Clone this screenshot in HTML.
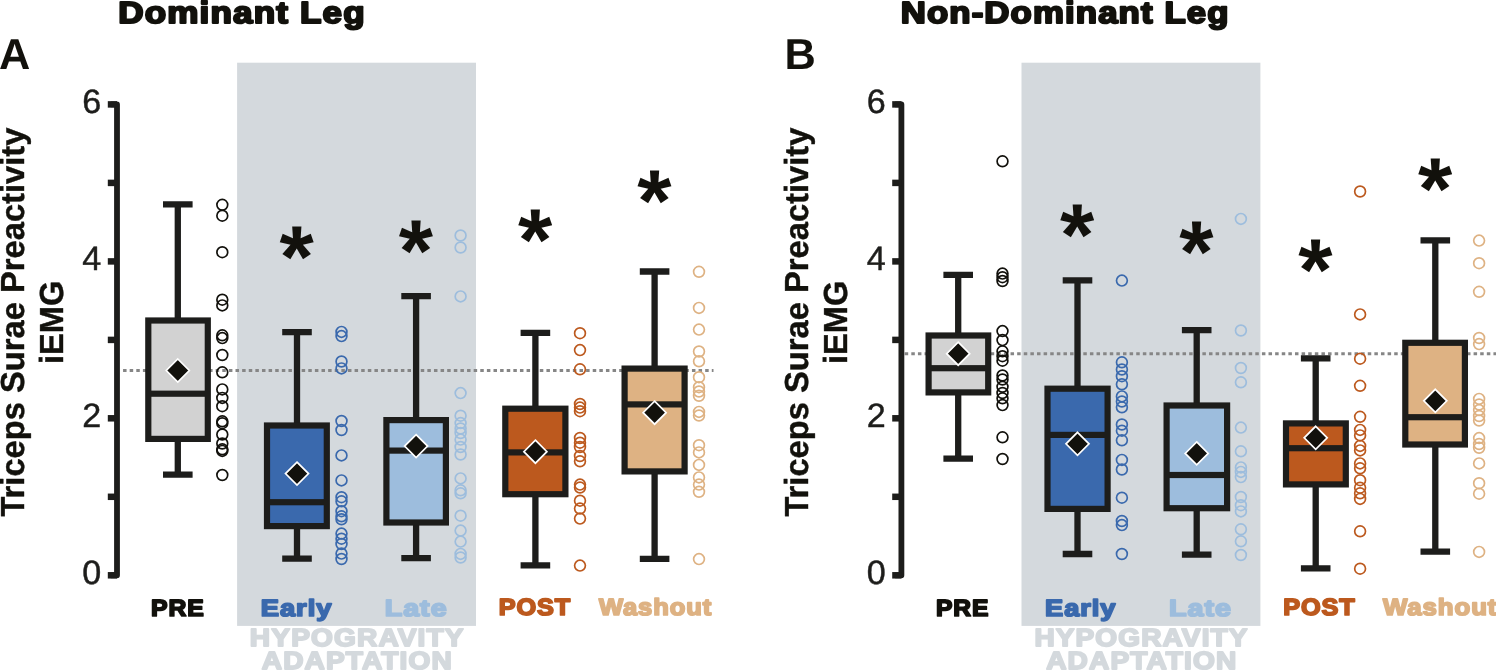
<!DOCTYPE html>
<html lang="en"><head><meta charset="utf-8"><title>Triceps Surae Preactivity iEMG</title>
<style>html,body{margin:0;padding:0;background:#fff}body{width:1496px;height:670px;overflow:hidden}svg{display:block;will-change:transform}text{font-family:"Liberation Sans",Arial,Helvetica,sans-serif;stroke-linejoin:round;text-rendering:geometricPrecision}</style></head><body>
<svg width="1496" height="670" viewBox="0 0 1496 670">
<rect width="1496" height="670" fill="#fff"/>
<rect x="237.1" y="62.7" width="238.9" height="563.2" fill="#d4d9dd"/>
<text transform="translate(249.84 646.00) scale(1 1.0)" font-size="24.85" font-weight="bold" fill="#d4d9dd" stroke="#d4d9dd" stroke-width="1.8" textLength="214.86" lengthAdjust="spacingAndGlyphs" letter-spacing="1.0">HYPOGRAVITY</text>
<text transform="translate(261.77 668.90) scale(1 1.0)" font-size="24.85" font-weight="bold" fill="#d4d9dd" stroke="#d4d9dd" stroke-width="1.8" textLength="191.15" lengthAdjust="spacingAndGlyphs" letter-spacing="1.0">ADAPTATION</text>
<line x1="123.06" y1="370.55" x2="713.5" y2="370.55" stroke="#868686" stroke-width="2.9" stroke-dasharray="3.5 3.115"/>
<path d="M110.7 104.4H117.0V575.3H110.7" fill="none" stroke="#1d1d1b" stroke-width="5.8" stroke-linejoin="round"/>
<line x1="107.8" y1="575.3" x2="117.0" y2="575.3" stroke="#1d1d1b" stroke-width="6.5"/>
<line x1="107.8" y1="496.8" x2="117.0" y2="496.8" stroke="#1d1d1b" stroke-width="6.5"/>
<line x1="107.8" y1="418.3" x2="117.0" y2="418.3" stroke="#1d1d1b" stroke-width="6.5"/>
<line x1="107.8" y1="339.9" x2="117.0" y2="339.9" stroke="#1d1d1b" stroke-width="6.5"/>
<line x1="107.8" y1="261.4" x2="117.0" y2="261.4" stroke="#1d1d1b" stroke-width="6.5"/>
<line x1="107.8" y1="182.9" x2="117.0" y2="182.9" stroke="#1d1d1b" stroke-width="6.5"/>
<line x1="107.8" y1="104.4" x2="117.0" y2="104.4" stroke="#1d1d1b" stroke-width="6.5"/>
<text transform="translate(101.3 583.7) scale(1.01 1)" font-size="33.8" text-anchor="end" fill="#1d1d1b" stroke="#1d1d1b" stroke-width="0.45">0</text>
<text transform="translate(101.3 426.7) scale(1.01 1)" font-size="33.8" text-anchor="end" fill="#1d1d1b" stroke="#1d1d1b" stroke-width="0.45">2</text>
<text transform="translate(101.3 269.8) scale(1.01 1)" font-size="33.8" text-anchor="end" fill="#1d1d1b" stroke="#1d1d1b" stroke-width="0.45">4</text>
<text transform="translate(101.3 112.8) scale(1.01 1)" font-size="33.8" text-anchor="end" fill="#1d1d1b" stroke="#1d1d1b" stroke-width="0.45">6</text>
<text transform="translate(23.70 516.56) rotate(-90) scale(1 1.02)" font-size="32.7" font-weight="bold" fill="#12110c" stroke="#12110c" stroke-width="0.4" textLength="388.99" lengthAdjust="spacingAndGlyphs">Triceps Surae Preactivity</text>
<text transform="translate(62.90 364.00) rotate(-90) scale(1 1.02)" font-size="32.7" font-weight="bold" fill="#12110c" stroke="#12110c" stroke-width="0.4" textLength="83.24" lengthAdjust="spacingAndGlyphs">iEMG</text>
<text x="-1.1" y="68.8" font-size="43.3" font-weight="bold" fill="#12110c">A</text>
<text transform="translate(118.17 22.80) scale(1 0.985)" font-size="31" font-weight="bold" fill="#12110c" stroke="#12110c" stroke-width="2.1" textLength="247.57" lengthAdjust="spacingAndGlyphs" letter-spacing="1.0">Dominant Leg</text>
<path d="M163.0 204.4H192.6M177.8 204.4V320.5M177.8 438.9V474.7M163.0 474.7H192.6" stroke="#1d1d1b" stroke-width="6.3" fill="none"/>
<rect x="145.2" y="317.4" width="65.7" height="124.6" fill="#1d1d1b"/>
<rect x="151.4" y="323.6" width="53.3" height="67.0" fill="#d2d2d2"/>
<rect x="151.4" y="396.8" width="53.3" height="39.0" fill="#d2d2d2"/>
<path d="M177.8 359.0L189.3 370.5L177.8 382.0L166.3 370.5Z" fill="#12110c" stroke="#fff" stroke-width="1.7"/>
<g fill="none" stroke="#12110c" stroke-width="1.7"><circle cx="222.3" cy="204.8" r="5.4"/><circle cx="222.3" cy="215.7" r="5.4"/><circle cx="222.3" cy="252.2" r="5.4"/><circle cx="222.3" cy="299.7" r="5.4"/><circle cx="222.3" cy="305.4" r="5.4"/><circle cx="222.3" cy="335.3" r="5.4"/><circle cx="222.3" cy="338.1" r="5.4"/><circle cx="222.3" cy="355.0" r="5.4"/><circle cx="222.3" cy="372.3" r="5.4"/><circle cx="222.3" cy="389.4" r="5.4"/><circle cx="222.3" cy="397.9" r="5.4"/><circle cx="222.3" cy="406.2" r="5.4"/><circle cx="222.3" cy="421.3" r="5.4"/><circle cx="222.3" cy="423.2" r="5.4"/><circle cx="222.3" cy="434.5" r="5.4"/><circle cx="222.3" cy="443.5" r="5.4"/><circle cx="222.3" cy="449.3" r="5.4"/><circle cx="222.3" cy="450.9" r="5.4"/><circle cx="222.3" cy="475.0" r="5.4"/></g>
<path d="M282.2 332.2H311.8M297.0 332.2V425.5M297.0 526.1V558.7M282.2 558.7H311.8" stroke="#1d1d1b" stroke-width="6.3" fill="none"/>
<rect x="263.9" y="422.4" width="66.0" height="106.8" fill="#1d1d1b"/>
<rect x="270.1" y="428.6" width="53.6" height="70.5" fill="#3a69ad"/>
<rect x="270.1" y="505.3" width="53.6" height="17.7" fill="#3a69ad"/>
<path d="M297.0 462.1L308.5 473.6L297.0 485.1L285.5 473.6Z" fill="#12110c" stroke="#fff" stroke-width="1.7"/>
<g fill="none" stroke="#3a69ad" stroke-width="1.7"><circle cx="341.5" cy="331.9" r="5.4"/><circle cx="341.5" cy="336.1" r="5.4"/><circle cx="341.5" cy="361.5" r="5.4"/><circle cx="341.5" cy="368.4" r="5.4"/><circle cx="341.5" cy="421.0" r="5.4"/><circle cx="341.5" cy="430.0" r="5.4"/><circle cx="341.5" cy="455.4" r="5.4"/><circle cx="341.5" cy="480.4" r="5.4"/><circle cx="341.5" cy="497.2" r="5.4"/><circle cx="341.5" cy="501.3" r="5.4"/><circle cx="341.5" cy="511.2" r="5.4"/><circle cx="341.5" cy="516.3" r="5.4"/><circle cx="341.5" cy="519.3" r="5.4"/><circle cx="341.5" cy="533.6" r="5.4"/><circle cx="341.5" cy="538.7" r="5.4"/><circle cx="341.5" cy="544.0" r="5.4"/><circle cx="341.5" cy="553.6" r="5.4"/><circle cx="341.5" cy="559.0" r="5.4"/></g>
<text x="296.7" y="287.1" font-size="88" font-weight="bold" text-anchor="middle" fill="#12110c" stroke="#12110c" stroke-width="0">*</text>
<path d="M401.3 296.1H430.9M416.1 296.1V420.1M416.1 522.5V558.1M401.3 558.1H430.9" stroke="#1d1d1b" stroke-width="6.3" fill="none"/>
<rect x="383.3" y="417.0" width="65.7" height="108.6" fill="#1d1d1b"/>
<rect x="389.5" y="423.2" width="53.3" height="24.3" fill="#9dbddd"/>
<rect x="389.5" y="453.7" width="53.3" height="65.7" fill="#9dbddd"/>
<path d="M416.1 434.6L427.6 446.1L416.1 457.6L404.6 446.1Z" fill="#12110c" stroke="#fff" stroke-width="1.7"/>
<g fill="none" stroke="#9dbddd" stroke-width="1.7"><circle cx="460.6" cy="235.5" r="5.4"/><circle cx="460.6" cy="247.5" r="5.4"/><circle cx="460.6" cy="296.4" r="5.4"/><circle cx="460.6" cy="393.1" r="5.4"/><circle cx="460.6" cy="415.7" r="5.4"/><circle cx="460.6" cy="423.1" r="5.4"/><circle cx="460.6" cy="428.5" r="5.4"/><circle cx="460.6" cy="433.0" r="5.4"/><circle cx="460.6" cy="439.6" r="5.4"/><circle cx="460.6" cy="447.0" r="5.4"/><circle cx="460.6" cy="454.5" r="5.4"/><circle cx="460.6" cy="478.4" r="5.4"/><circle cx="460.6" cy="490.3" r="5.4"/><circle cx="460.6" cy="493.3" r="5.4"/><circle cx="460.6" cy="515.7" r="5.4"/><circle cx="460.6" cy="530.6" r="5.4"/><circle cx="460.6" cy="541.6" r="5.4"/><circle cx="460.6" cy="553.9" r="5.4"/><circle cx="460.6" cy="557.5" r="5.4"/></g>
<text x="415.8" y="281.2" font-size="88" font-weight="bold" text-anchor="middle" fill="#12110c" stroke="#12110c" stroke-width="0">*</text>
<path d="M520.6 332.9H550.2M535.4 332.9V408.7M535.4 494.2V565.3M520.6 565.3H550.2" stroke="#1d1d1b" stroke-width="6.3" fill="none"/>
<rect x="502.2" y="405.6" width="66.3" height="91.7" fill="#1d1d1b"/>
<rect x="508.4" y="411.8" width="53.9" height="37.5" fill="#bc591e"/>
<rect x="508.4" y="455.5" width="53.9" height="35.6" fill="#bc591e"/>
<path d="M535.4 440.2L546.9 451.7L535.4 463.2L523.9 451.7Z" fill="#12110c" stroke="#fff" stroke-width="1.7"/>
<g fill="none" stroke="#bc591e" stroke-width="1.7"><circle cx="580.0" cy="333.2" r="5.4"/><circle cx="580.0" cy="350.1" r="5.4"/><circle cx="580.0" cy="369.3" r="5.4"/><circle cx="580.0" cy="404.0" r="5.4"/><circle cx="580.0" cy="407.6" r="5.4"/><circle cx="580.0" cy="411.2" r="5.4"/><circle cx="580.0" cy="438.0" r="5.4"/><circle cx="580.0" cy="442.7" r="5.4"/><circle cx="580.0" cy="447.0" r="5.4"/><circle cx="580.0" cy="456.0" r="5.4"/><circle cx="580.0" cy="461.3" r="5.4"/><circle cx="580.0" cy="484.6" r="5.4"/><circle cx="580.0" cy="487.5" r="5.4"/><circle cx="580.0" cy="500.7" r="5.4"/><circle cx="580.0" cy="508.6" r="5.4"/><circle cx="580.0" cy="518.6" r="5.4"/><circle cx="580.0" cy="565.6" r="5.4"/></g>
<text x="535.1" y="270.2" font-size="88" font-weight="bold" text-anchor="middle" fill="#12110c" stroke="#12110c" stroke-width="0">*</text>
<path d="M639.8 271.5H669.4M654.6 271.5V368.6M654.6 471.4V558.8M639.8 558.8H669.4" stroke="#1d1d1b" stroke-width="6.3" fill="none"/>
<rect x="621.5" y="365.5" width="66.2" height="109.0" fill="#1d1d1b"/>
<rect x="627.7" y="371.7" width="53.8" height="29.6" fill="#deb283"/>
<rect x="627.7" y="407.5" width="53.8" height="60.8" fill="#deb283"/>
<path d="M654.6 401.2L666.1 412.7L654.6 424.2L643.1 412.7Z" fill="#12110c" stroke="#fff" stroke-width="1.7"/>
<g fill="none" stroke="#deb283" stroke-width="1.7"><circle cx="699.0" cy="271.8" r="5.4"/><circle cx="699.0" cy="307.9" r="5.4"/><circle cx="699.0" cy="329.6" r="5.4"/><circle cx="699.0" cy="351.5" r="5.4"/><circle cx="699.0" cy="361.3" r="5.4"/><circle cx="699.0" cy="377.2" r="5.4"/><circle cx="699.0" cy="387.2" r="5.4"/><circle cx="699.0" cy="391.5" r="5.4"/><circle cx="699.0" cy="395.8" r="5.4"/><circle cx="699.0" cy="411.9" r="5.4"/><circle cx="699.0" cy="415.5" r="5.4"/><circle cx="699.0" cy="445.2" r="5.4"/><circle cx="699.0" cy="452.4" r="5.4"/><circle cx="699.0" cy="464.9" r="5.4"/><circle cx="699.0" cy="477.4" r="5.4"/><circle cx="699.0" cy="484.6" r="5.4"/><circle cx="699.0" cy="491.8" r="5.4"/><circle cx="699.0" cy="559.1" r="5.4"/></g>
<text x="654.3" y="230.5" font-size="88" font-weight="bold" text-anchor="middle" fill="#12110c" stroke="#12110c" stroke-width="0">*</text>
<text transform="translate(151.02 616.00) scale(1 1.02)" font-size="22.9" font-weight="bold" fill="#12110c" stroke="#12110c" stroke-width="1.7" textLength="53.54" lengthAdjust="spacingAndGlyphs" letter-spacing="0.8">PRE</text>
<text transform="translate(260.70 615.85) scale(1 1.02)" font-size="22.9" font-weight="bold" fill="#3a69ad" stroke="#3a69ad" stroke-width="1.7" textLength="71.65" lengthAdjust="spacingAndGlyphs" letter-spacing="0.8">Early</text>
<text transform="translate(384.66 615.85) scale(1 1.02)" font-size="22.9" font-weight="bold" fill="#9dbddd" stroke="#9dbddd" stroke-width="1.7" textLength="62.98" lengthAdjust="spacingAndGlyphs" letter-spacing="0.8">Late</text>
<text transform="translate(498.74 614.55) scale(1 1.02)" font-size="22.9" font-weight="bold" fill="#bc591e" stroke="#bc591e" stroke-width="1.7" textLength="72.29" lengthAdjust="spacingAndGlyphs" letter-spacing="0.8">POST</text>
<text transform="translate(598.95 614.55) scale(1 1.02)" font-size="22.9" font-weight="bold" fill="#deb283" stroke="#deb283" stroke-width="1.7" textLength="113.16" lengthAdjust="spacingAndGlyphs" letter-spacing="0.8">Washout</text>
<rect x="1021.5" y="62.7" width="238.9" height="563.2" fill="#d4d9dd"/>
<text transform="translate(1034.39 646.00) scale(1 1.0)" font-size="24.85" font-weight="bold" fill="#d4d9dd" stroke="#d4d9dd" stroke-width="1.8" textLength="214.23" lengthAdjust="spacingAndGlyphs" letter-spacing="1.0">HYPOGRAVITY</text>
<text transform="translate(1046.16 668.90) scale(1 1.0)" font-size="24.85" font-weight="bold" fill="#d4d9dd" stroke="#d4d9dd" stroke-width="1.8" textLength="191.23" lengthAdjust="spacingAndGlyphs" letter-spacing="1.0">ADAPTATION</text>
<line x1="904.7" y1="353.76" x2="1496" y2="353.76" stroke="#868686" stroke-width="2.9" stroke-dasharray="3.5 3.115"/>
<path d="M895.1 104.4H901.4V575.3H895.1" fill="none" stroke="#1d1d1b" stroke-width="5.8" stroke-linejoin="round"/>
<line x1="892.2" y1="575.3" x2="901.4" y2="575.3" stroke="#1d1d1b" stroke-width="6.5"/>
<line x1="892.2" y1="496.8" x2="901.4" y2="496.8" stroke="#1d1d1b" stroke-width="6.5"/>
<line x1="892.2" y1="418.3" x2="901.4" y2="418.3" stroke="#1d1d1b" stroke-width="6.5"/>
<line x1="892.2" y1="339.9" x2="901.4" y2="339.9" stroke="#1d1d1b" stroke-width="6.5"/>
<line x1="892.2" y1="261.4" x2="901.4" y2="261.4" stroke="#1d1d1b" stroke-width="6.5"/>
<line x1="892.2" y1="182.9" x2="901.4" y2="182.9" stroke="#1d1d1b" stroke-width="6.5"/>
<line x1="892.2" y1="104.4" x2="901.4" y2="104.4" stroke="#1d1d1b" stroke-width="6.5"/>
<text transform="translate(885.7 583.7) scale(1.01 1)" font-size="33.8" text-anchor="end" fill="#1d1d1b" stroke="#1d1d1b" stroke-width="0.45">0</text>
<text transform="translate(885.7 426.7) scale(1.01 1)" font-size="33.8" text-anchor="end" fill="#1d1d1b" stroke="#1d1d1b" stroke-width="0.45">2</text>
<text transform="translate(885.7 269.8) scale(1.01 1)" font-size="33.8" text-anchor="end" fill="#1d1d1b" stroke="#1d1d1b" stroke-width="0.45">4</text>
<text transform="translate(885.7 112.8) scale(1.01 1)" font-size="33.8" text-anchor="end" fill="#1d1d1b" stroke="#1d1d1b" stroke-width="0.45">6</text>
<text transform="translate(808.10 516.56) rotate(-90) scale(1 1.02)" font-size="32.7" font-weight="bold" fill="#12110c" stroke="#12110c" stroke-width="0.4" textLength="388.99" lengthAdjust="spacingAndGlyphs">Triceps Surae Preactivity</text>
<text transform="translate(847.30 364.00) rotate(-90) scale(1 1.02)" font-size="32.7" font-weight="bold" fill="#12110c" stroke="#12110c" stroke-width="0.4" textLength="83.24" lengthAdjust="spacingAndGlyphs">iEMG</text>
<text x="784.5" y="68.8" font-size="43.3" font-weight="bold" fill="#12110c">B</text>
<text transform="translate(900.70 22.80) scale(1 0.985)" font-size="31" font-weight="bold" fill="#12110c" stroke="#12110c" stroke-width="2.1" textLength="328.92" lengthAdjust="spacingAndGlyphs" letter-spacing="1.0">Non-Dominant Leg</text>
<path d="M943.4 274.8H973.0M958.2 274.8V335.5M958.2 392.4V458.7M943.4 458.7H973.0" stroke="#1d1d1b" stroke-width="6.3" fill="none"/>
<rect x="925.5" y="332.4" width="65.8" height="63.1" fill="#1d1d1b"/>
<rect x="931.7" y="338.6" width="53.4" height="26.5" fill="#d2d2d2"/>
<rect x="931.7" y="371.3" width="53.4" height="18.0" fill="#d2d2d2"/>
<path d="M958.2 342.2L969.7 353.7L958.2 365.2L946.7 353.7Z" fill="#12110c" stroke="#fff" stroke-width="1.7"/>
<g fill="none" stroke="#12110c" stroke-width="1.7"><circle cx="1002.5" cy="161.3" r="5.4"/><circle cx="1002.5" cy="273.6" r="5.4"/><circle cx="1002.5" cy="277.2" r="5.4"/><circle cx="1002.5" cy="281.0" r="5.4"/><circle cx="1002.5" cy="331.1" r="5.4"/><circle cx="1002.5" cy="340.1" r="5.4"/><circle cx="1002.5" cy="351.3" r="5.4"/><circle cx="1002.5" cy="356.2" r="5.4"/><circle cx="1002.5" cy="360.7" r="5.4"/><circle cx="1002.5" cy="375.5" r="5.4"/><circle cx="1002.5" cy="379.5" r="5.4"/><circle cx="1002.5" cy="386.8" r="5.4"/><circle cx="1002.5" cy="393.0" r="5.4"/><circle cx="1002.5" cy="398.3" r="5.4"/><circle cx="1002.5" cy="405.1" r="5.4"/><circle cx="1002.5" cy="437.3" r="5.4"/><circle cx="1002.5" cy="459.0" r="5.4"/></g>
<path d="M1062.7 280.3H1092.3M1077.5 280.3V388.7M1077.5 508.9V554.0M1062.7 554.0H1092.3" stroke="#1d1d1b" stroke-width="6.3" fill="none"/>
<rect x="1044.4" y="385.6" width="66.3" height="126.4" fill="#1d1d1b"/>
<rect x="1050.6" y="391.8" width="53.9" height="40.0" fill="#3a69ad"/>
<rect x="1050.6" y="438.0" width="53.9" height="67.8" fill="#3a69ad"/>
<path d="M1077.5 432.3L1089.0 443.8L1077.5 455.3L1066.0 443.8Z" fill="#12110c" stroke="#fff" stroke-width="1.7"/>
<g fill="none" stroke="#3a69ad" stroke-width="1.7"><circle cx="1121.9" cy="280.6" r="5.4"/><circle cx="1121.9" cy="362.3" r="5.4"/><circle cx="1121.9" cy="369.5" r="5.4"/><circle cx="1121.9" cy="376.2" r="5.4"/><circle cx="1121.9" cy="384.3" r="5.4"/><circle cx="1121.9" cy="396.4" r="5.4"/><circle cx="1121.9" cy="401.5" r="5.4"/><circle cx="1121.9" cy="407.3" r="5.4"/><circle cx="1121.9" cy="424.5" r="5.4"/><circle cx="1121.9" cy="430.7" r="5.4"/><circle cx="1121.9" cy="440.3" r="5.4"/><circle cx="1121.9" cy="459.9" r="5.4"/><circle cx="1121.9" cy="469.5" r="5.4"/><circle cx="1121.9" cy="497.7" r="5.4"/><circle cx="1121.9" cy="521.0" r="5.4"/><circle cx="1121.9" cy="525.1" r="5.4"/><circle cx="1121.9" cy="554.0" r="5.4"/></g>
<text x="1077.2" y="265.3" font-size="88" font-weight="bold" text-anchor="middle" fill="#12110c" stroke="#12110c" stroke-width="0">*</text>
<path d="M1181.9 330.2H1211.5M1196.7 330.2V405.5M1196.7 508.2V554.7M1181.9 554.7H1211.5" stroke="#1d1d1b" stroke-width="6.3" fill="none"/>
<rect x="1163.5" y="402.4" width="66.7" height="108.9" fill="#1d1d1b"/>
<rect x="1169.7" y="408.6" width="54.3" height="63.3" fill="#9dbddd"/>
<rect x="1169.7" y="478.1" width="54.3" height="27.0" fill="#9dbddd"/>
<path d="M1196.7 441.9L1208.2 453.4L1196.7 464.9L1185.2 453.4Z" fill="#12110c" stroke="#fff" stroke-width="1.7"/>
<g fill="none" stroke="#9dbddd" stroke-width="1.7"><circle cx="1240.9" cy="218.9" r="5.4"/><circle cx="1240.9" cy="330.5" r="5.4"/><circle cx="1240.9" cy="368.0" r="5.4"/><circle cx="1240.9" cy="382.3" r="5.4"/><circle cx="1240.9" cy="427.6" r="5.4"/><circle cx="1240.9" cy="451.3" r="5.4"/><circle cx="1240.9" cy="467.4" r="5.4"/><circle cx="1240.9" cy="471.9" r="5.4"/><circle cx="1240.9" cy="477.1" r="5.4"/><circle cx="1240.9" cy="497.0" r="5.4"/><circle cx="1240.9" cy="505.2" r="5.4"/><circle cx="1240.9" cy="511.4" r="5.4"/><circle cx="1240.9" cy="529.3" r="5.4"/><circle cx="1240.9" cy="541.3" r="5.4"/><circle cx="1240.9" cy="555.0" r="5.4"/></g>
<text x="1196.4" y="281.9" font-size="88" font-weight="bold" text-anchor="middle" fill="#12110c" stroke="#12110c" stroke-width="0">*</text>
<path d="M1300.9 358.4H1330.5M1315.7 358.4V423.4M1315.7 484.4V568.4M1300.9 568.4H1330.5" stroke="#1d1d1b" stroke-width="6.3" fill="none"/>
<rect x="1282.9" y="420.3" width="66.0" height="67.2" fill="#1d1d1b"/>
<rect x="1289.1" y="426.5" width="53.6" height="18.6" fill="#bc591e"/>
<rect x="1289.1" y="451.3" width="53.6" height="30.0" fill="#bc591e"/>
<path d="M1315.7 426.3L1327.2 437.8L1315.7 449.3L1304.2 437.8Z" fill="#12110c" stroke="#fff" stroke-width="1.7"/>
<g fill="none" stroke="#bc591e" stroke-width="1.7"><circle cx="1360.1" cy="191.5" r="5.4"/><circle cx="1360.1" cy="314.4" r="5.4"/><circle cx="1360.1" cy="358.7" r="5.4"/><circle cx="1360.1" cy="385.8" r="5.4"/><circle cx="1360.1" cy="416.8" r="5.4"/><circle cx="1360.1" cy="429.9" r="5.4"/><circle cx="1360.1" cy="435.4" r="5.4"/><circle cx="1360.1" cy="445.9" r="5.4"/><circle cx="1360.1" cy="450.4" r="5.4"/><circle cx="1360.1" cy="463.4" r="5.4"/><circle cx="1360.1" cy="468.3" r="5.4"/><circle cx="1360.1" cy="480.2" r="5.4"/><circle cx="1360.1" cy="487.7" r="5.4"/><circle cx="1360.1" cy="493.3" r="5.4"/><circle cx="1360.1" cy="498.9" r="5.4"/><circle cx="1360.1" cy="531.3" r="5.4"/><circle cx="1360.1" cy="568.7" r="5.4"/></g>
<text x="1315.4" y="300.2" font-size="88" font-weight="bold" text-anchor="middle" fill="#12110c" stroke="#12110c" stroke-width="0">*</text>
<path d="M1420.5 240.3H1450.1M1435.3 240.3V342.8M1435.3 444.5V551.6M1420.5 551.6H1450.1" stroke="#1d1d1b" stroke-width="6.3" fill="none"/>
<rect x="1402.2" y="339.7" width="65.8" height="107.9" fill="#1d1d1b"/>
<rect x="1408.4" y="345.9" width="53.4" height="68.2" fill="#deb283"/>
<rect x="1408.4" y="420.3" width="53.4" height="21.1" fill="#deb283"/>
<path d="M1435.3 389.3L1446.8 400.8L1435.3 412.3L1423.8 400.8Z" fill="#12110c" stroke="#fff" stroke-width="1.7"/>
<g fill="none" stroke="#deb283" stroke-width="1.7"><circle cx="1479.1" cy="240.6" r="5.4"/><circle cx="1479.1" cy="263.2" r="5.4"/><circle cx="1479.1" cy="291.8" r="5.4"/><circle cx="1479.1" cy="338.0" r="5.4"/><circle cx="1479.1" cy="344.1" r="5.4"/><circle cx="1479.1" cy="398.9" r="5.4"/><circle cx="1479.1" cy="404.5" r="5.4"/><circle cx="1479.1" cy="410.1" r="5.4"/><circle cx="1479.1" cy="416.0" r="5.4"/><circle cx="1479.1" cy="420.5" r="5.4"/><circle cx="1479.1" cy="438.1" r="5.4"/><circle cx="1479.1" cy="444.0" r="5.4"/><circle cx="1479.1" cy="447.8" r="5.4"/><circle cx="1479.1" cy="463.4" r="5.4"/><circle cx="1479.1" cy="483.2" r="5.4"/><circle cx="1479.1" cy="493.7" r="5.4"/><circle cx="1479.1" cy="551.9" r="5.4"/></g>
<text x="1435.0" y="218.5" font-size="88" font-weight="bold" text-anchor="middle" fill="#12110c" stroke="#12110c" stroke-width="0">*</text>
<text transform="translate(936.04 616.00) scale(1 1.02)" font-size="22.9" font-weight="bold" fill="#12110c" stroke="#12110c" stroke-width="1.7" textLength="53.22" lengthAdjust="spacingAndGlyphs" letter-spacing="0.8">PRE</text>
<text transform="translate(1045.11 615.85) scale(1 1.02)" font-size="22.9" font-weight="bold" fill="#3a69ad" stroke="#3a69ad" stroke-width="1.7" textLength="71.32" lengthAdjust="spacingAndGlyphs" letter-spacing="0.8">Early</text>
<text transform="translate(1169.03 615.85) scale(1 1.02)" font-size="22.9" font-weight="bold" fill="#9dbddd" stroke="#9dbddd" stroke-width="1.7" textLength="62.96" lengthAdjust="spacingAndGlyphs" letter-spacing="0.8">Late</text>
<text transform="translate(1283.25 614.55) scale(1 1.02)" font-size="22.9" font-weight="bold" fill="#bc591e" stroke="#bc591e" stroke-width="1.7" textLength="72.41" lengthAdjust="spacingAndGlyphs" letter-spacing="0.8">POST</text>
<text transform="translate(1383.00 614.55) scale(1 1.02)" font-size="22.9" font-weight="bold" fill="#deb283" stroke="#deb283" stroke-width="1.7" textLength="114.30" lengthAdjust="spacingAndGlyphs" letter-spacing="0.8">Washout</text>
</svg></body></html>
